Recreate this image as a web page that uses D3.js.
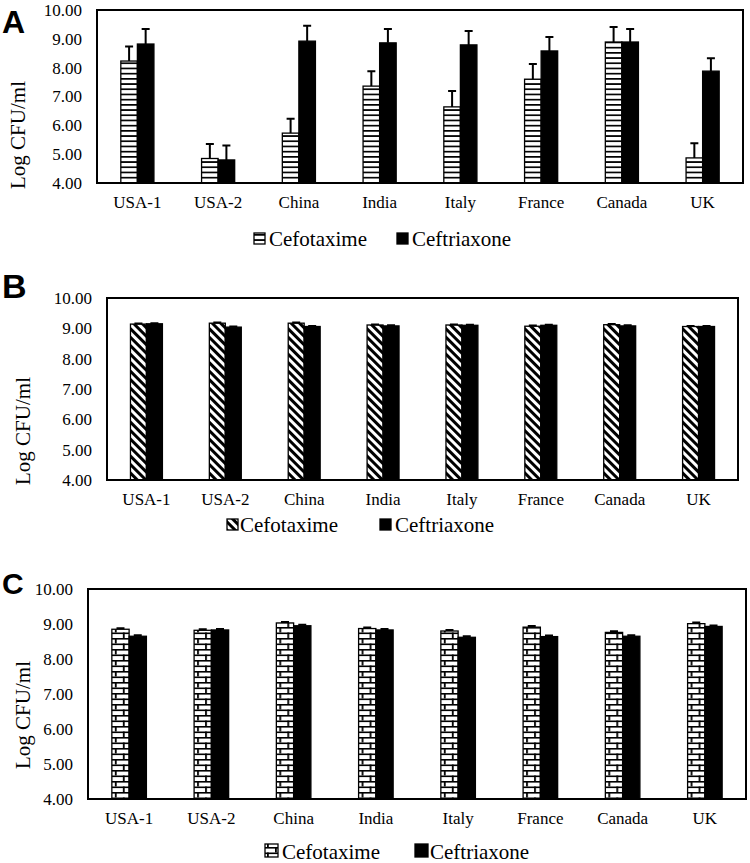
<!DOCTYPE html>
<html><head><meta charset="utf-8">
<script src="https://cdn.jsdelivr.net/npm/d3@7"></script>
<style>
body{margin:0;background:#fff}
svg text{font-family:"Liberation Serif","Times New Roman",Times,serif;fill:#000}
svg text.plabel{font-family:"Liberation Sans",Arial,sans-serif;font-weight:bold}
</style>
</head><body><svg id="c" width="750" height="863"></svg>
<script>
// ---------- DATA ----------
const categories = ["USA-1","USA-2","China","India","Italy","France","Canada","UK"];
const seriesNames = ["Cefotaxime","Ceftriaxone"];
const yTickValues = [4,5,6,7,8,9,10];

const aCefotaxime    = [8.23, 4.85, 5.73, 7.36, 6.64, 7.60, 8.89, 4.87];
const aCefotaximeErr = [0.50, 0.50, 0.50, 0.52, 0.55, 0.53, 0.52, 0.51];
const aCeftriaxone    = [8.82, 4.80, 8.92, 8.86, 8.79, 8.58, 8.89, 7.88];
const aCeftriaxoneErr = [0.52, 0.50, 0.53, 0.48, 0.48, 0.48, 0.45, 0.45];

const bCefotaxime    = [9.14, 9.17, 9.17, 9.11, 9.11, 9.07, 9.12, 9.06];
const bCefotaximeErr = [0.02, 0.02, 0.02, 0.02, 0.02, 0.02, 0.02, 0.02];
const bCeftriaxone    = [9.15, 9.04, 9.06, 9.08, 9.10, 9.10, 9.08, 9.06];
const bCeftriaxoneErr = [0.02, 0.02, 0.02, 0.02, 0.02, 0.02, 0.02, 0.02];

const cCefotaxime    = [8.85, 8.82, 9.03, 8.87, 8.80, 8.91, 8.76, 9.01];
const cCefotaximeErr = [0.03, 0.03, 0.03, 0.03, 0.03, 0.03, 0.03, 0.03];
const cCeftriaxone    = [8.65, 8.83, 8.95, 8.83, 8.62, 8.64, 8.65, 8.93];
const cCeftriaxoneErr = [0.03, 0.03, 0.03, 0.03, 0.03, 0.03, 0.03, 0.03];

// ---------- LAYOUT ----------
const svg = d3.select("#c");
const defs = svg.append("defs");

// patterns
const hp = defs.append("pattern").attr("id","pH").attr("patternUnits","userSpaceOnUse")
  .attr("width",6).attr("height",5.2);
hp.append("rect").attr("width",6).attr("height",5.2).attr("fill","#fff");
hp.append("rect").attr("y",0).attr("width",6).attr("height",1.7).attr("fill","#000");

const dp = defs.append("pattern").attr("id","pD").attr("patternUnits","userSpaceOnUse")
  .attr("width",6).attr("height",6).attr("patternTransform","rotate(-45)");
dp.append("rect").attr("width",6).attr("height",6).attr("fill","#fff");
dp.append("rect").attr("width",3).attr("height",6).attr("fill","#000");

const bp = defs.append("pattern").attr("id","pB").attr("patternUnits","userSpaceOnUse")
  .attr("width",16).attr("height",11).attr("x",3);
bp.append("rect").attr("width",16).attr("height",11).attr("fill","#fff");
bp.append("rect").attr("y",0).attr("width",16).attr("height",1.6).attr("fill","#000");
bp.append("rect").attr("y",5.5).attr("width",16).attr("height",1.6).attr("fill","#000");
bp.append("rect").attr("x",0).attr("y",0).attr("width",1.8).attr("height",5.5).attr("fill","#000");
bp.append("rect").attr("x",8).attr("y",5.5).attr("width",1.8).attr("height",5.5).attr("fill","#000");

const panels = [
  {label:"A", cef:aCefotaxime, cefE:aCefotaximeErr, cft:aCeftriaxone, cftE:aCeftriaxoneErr,
   left:97, right:743, top:10, bottom:183, pad:0.59, fill:"url(#pH)",
   lx:2, ly:33, lsize:32, tx:25, ty:135, leg:246, legX:[254,397], legTx:[269,412], icon:11},
  {label:"B", cef:bCefotaxime, cefE:bCefotaximeErr, cft:bCeftriaxone, cftE:bCeftriaxoneErr,
   left:107, right:738, top:298, bottom:480, pad:0.595, fill:"url(#pD)",
   lx:2, ly:298, lsize:34, tx:30, ty:431, leg:532, legX:[227,380], legTx:[240,395], icon:11},
  {label:"C", cef:cCefotaxime, cefE:cCefotaximeErr, cft:cCeftriaxone, cftE:cCeftriaxoneErr,
   left:88, right:746, top:589, bottom:799, pad:0.58, fill:"url(#pB)",
   lx:2, ly:594, lsize:30, tx:30, ty:715, leg:859, legX:[265,415], legTx:[282,430], icon:13}
];

panels.forEach(p => {
  const g = svg.append("g");
  const x0 = d3.scaleBand().domain(categories).range([p.left,p.right])
    .paddingInner(p.pad).paddingOuter(p.pad/2);
  const x1 = d3.scaleBand().domain(seriesNames).range([0,x0.bandwidth()]);
  const y = d3.scaleLinear().domain([4,10]).range([p.bottom,p.top]);

  // y axis labels
  const ya = g.append("g").attr("transform",`translate(${p.left},0)`)
    .call(d3.axisLeft(y).tickValues(yTickValues).tickFormat(d3.format(".2f")).tickSize(0).tickPadding(15));
  ya.attr("font-family",null).attr("font-size",null);
  ya.select(".domain").remove();
  ya.selectAll("text").style("font-size","17px");

  // x axis labels
  const xa = g.append("g").attr("transform",`translate(0,${p.bottom})`)
    .call(d3.axisBottom(x0).tickSize(0).tickPadding(13));
  xa.attr("font-family",null).attr("font-size",null);
  xa.select(".domain").remove();
  xa.selectAll("text").style("font-size","17px");

  const rows = categories.map((c,i)=>({c, vals:[
    {s:seriesNames[0], v:p.cef[i], e:p.cefE[i]},
    {s:seriesNames[1], v:p.cft[i], e:p.cftE[i]}]}));

  const grp = g.selectAll(".grp").data(rows).join("g")
    .attr("transform",d=>`translate(${x0(d.c)},0)`);
  grp.selectAll("rect").data(d=>d.vals).join("rect")
    .attr("x",d=>x1(d.s)).attr("width",x1.bandwidth())
    .attr("y",d=>y(d.v)).attr("height",d=>y(4)-y(d.v))
    .attr("fill",d=>d.s===seriesNames[0]?p.fill:"#000")
    .attr("stroke","#000").attr("stroke-width",1.3);
  // error bars (upper)
  grp.selectAll("path.err").data(d=>d.vals).join("path").attr("class","err")
    .attr("d",d=>{
      const cx = x1(d.s)+x1.bandwidth()/2;
      const capW = 4;
      return `M${cx},${y(d.v)}V${y(d.v+d.e)}M${cx-capW},${y(d.v+d.e)}H${cx+capW}`;
    })
    .attr("stroke","#000").attr("stroke-width",2).attr("fill","none");

  // frame
  g.append("rect").attr("x",p.left).attr("y",p.top)
    .attr("width",p.right-p.left).attr("height",p.bottom-p.top)
    .attr("fill","none").attr("stroke","#000").attr("stroke-width",2);

  // y title
  g.append("text").attr("transform",`translate(${p.tx},${p.ty}) rotate(-90)`)
    .attr("text-anchor","middle").style("font-size","21px")
    .text("Log CFU/ml");

  // panel label
  g.append("text").attr("class","plabel").attr("x",p.lx).attr("y",p.ly)
    .style("font-size",p.lsize+"px").text(p.label);

  // legend
  seriesNames.forEach((s,i)=>{
    g.append("rect").attr("x",p.legX[i]).attr("y",p.leg-2-p.icon)
      .attr("width",p.icon).attr("height",p.icon)
      .attr("fill",i===0?p.fill:"#000").attr("stroke","#000").attr("stroke-width",1.3);
    g.append("text").attr("x",p.legTx[i]).attr("y",p.leg)
      .style("font-size","21px").text(s);
  });
});
</script></body></html>
